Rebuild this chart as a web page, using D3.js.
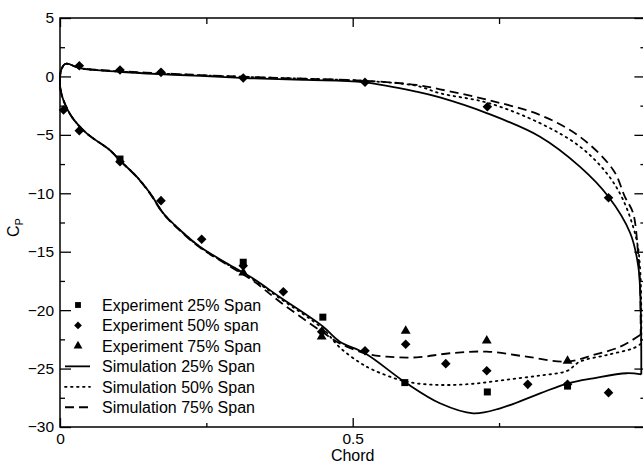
<!DOCTYPE html>
<html>
<head>
<meta charset="utf-8">
<script src="https://cdn.jsdelivr.net/npm/d3@7"></script>
<style>
  body { margin: 0; background: #fff; }
  text { font-family: "Liberation Sans", Arial, sans-serif; fill: #000; }
</style>
</head>
<body>
<div id="chart-area"></div>
<script>
// ---- data ----
var cpMajor = [-30, -25, -20, -15, -10, -5, 0, 5];
var cpMinor = [-27.5, -22.5, -17.5, -12.5, -7.5, -2.5, 2.5];
var chordMajor = [0, 0.5];
var chordMinor = [0.25, 0.75];

// experiments
var exp25X = [0.1025, 0.313, 0.449, 0.589, 0.730, 0.867];
var exp25Cp = [-7.07, -15.9, -20.6, -26.2, -27.0, -26.5];

var exp50X = [0.033, 0.1025, 0.1725, 0.313, 0.521, 0.730, 0.937,
              0.006, 0.033, 0.1025, 0.1725, 0.242, 0.313, 0.3815, 0.447, 0.521, 0.5905, 0.659, 0.729, 0.799, 0.867, 0.937];
var exp50Cp = [0.92, 0.55, 0.35, -0.13, -0.5, -2.59, -10.38,
               -2.87, -4.64, -7.3, -10.63, -13.94, -16.2, -18.42, -21.84, -23.47, -22.92, -24.58, -25.18, -26.35, -26.35, -27.06];

var exp75X = [0.313, 0.447, 0.5905, 0.729, 0.867];
var exp75Cp = [-16.8, -22.27, -21.78, -22.61, -24.35];

// simulations: closed loop, trailing edge lower -> leading edge -> trailing edge upper
var sim25X = [0.993, 0.968, 0.911, 0.868, 0.82, 0.752, 0.706, 0.649, 0.592, 0.521, 0.478, 0.449, 0.376, 0.33, 0.285, 0.239, 0.205, 0.1765, 0.154, 0.131, 0.1025, 0.085, 0.0456, 0.02, 0.0056, 0.001, 0,
              0.0017, 0.0085, 0.017, 0.0256, 0.04, 0.1, 0.17, 0.24, 0.325, 0.42, 0.52, 0.609, 0.649, 0.73, 0.82, 0.888, 0.937, 0.974, 0.988, 0.992, 0.993];
var sim25Cp = [-25.5, -25.4, -25.83, -26.26, -27.12, -28.4, -28.83, -27.97, -26.26, -23.69, -22.7, -21.4, -18.9, -17.3, -15.99, -14.57, -13.14, -11.71, -10.0, -8.58, -7.2, -6.3, -4.87, -3.45, -2.0, -1.16, -0.6,
               0.5, 1.06, 1.04, 0.83, 0.64, 0.4, 0.2, 0.04, -0.16, -0.3, -0.5, -1.3, -1.8, -3.16, -5.16, -7.72, -10.3, -13.4, -16.3, -20.0, -25.5];

var sim50X = [0.992, 0.979, 0.934, 0.888, 0.866, 0.82, 0.763, 0.706, 0.649, 0.592, 0.535, 0.5125, 0.478, 0.449, 0.376, 0.33, 0.285, 0.239, 0.205, 0.1765, 0.154, 0.131, 0.1025, 0.085, 0.0456, 0.02, 0.0056, 0.001, 0,
              0.0017, 0.0085, 0.017, 0.0256, 0.04, 0.1, 0.17, 0.24, 0.325, 0.42, 0.52, 0.609, 0.649, 0.73, 0.82, 0.888, 0.934, 0.962, 0.985, 0.991, 0.993, 0.993];
var sim50Cp = [-22.9, -23.27, -23.84, -24.41, -25.2, -25.6, -25.95, -26.3, -26.4, -26.12, -25.12, -24.5, -23.2, -21.6, -19.0, -17.4, -16.05, -14.6, -13.15, -11.72, -10.0, -8.58, -7.2, -6.3, -4.87, -3.45, -2.0, -1.16, -0.6,
               0.5, 1.06, 1.04, 0.84, 0.66, 0.42, 0.25, 0.1, -0.05, -0.2, -0.38, -0.8, -1.44, -2.25, -4.0, -6.0, -8.29, -10.57, -14.0, -16.5, -20.0, -22.9];

var sim75X = [0.991, 0.957, 0.911, 0.866, 0.797, 0.729, 0.666, 0.609, 0.558, 0.521, 0.478, 0.449, 0.376, 0.33, 0.285, 0.239, 0.205, 0.1765, 0.154, 0.131, 0.1025, 0.085, 0.0456, 0.02, 0.0056, 0.001, 0,
              0.0017, 0.0085, 0.017, 0.0256, 0.04, 0.1, 0.17, 0.24, 0.325, 0.42, 0.518, 0.609, 0.649, 0.73, 0.82, 0.888, 0.945, 0.965, 0.979, 0.987, 0.991, 0.992];
var sim75Cp = [-22.13, -23.13, -23.84, -24.41, -23.98, -23.55, -23.69, -24.04, -23.98, -23.69, -22.84, -21.9, -19.3, -17.5, -16.1, -14.65, -13.2, -11.75, -10.05, -8.6, -7.2, -6.3, -4.87, -3.45, -2.0, -1.16, -0.6,
               0.5, 1.06, 1.04, 0.85, 0.68, 0.45, 0.28, 0.12, -0.05, -0.2, -0.36, -0.73, -1.1, -2.0, -3.3, -5.16, -8.0, -10.3, -11.7, -14.85, -18.0, -22.13];

var legendLabels = ["Experiment 25% Span", "Experiment 50% span", "Experiment 75% Span",
                    "Simulation 25% Span", "Simulation 50% Span", "Simulation 75% Span"];

// ---- layout ----
var margin = { left: 60, right: 0, top: 18, bottom: 36 };
var W = 643, H = 463;
var width = 585.4, height = H - margin.top - margin.bottom;

var svg = d3.select("#chart-area")
    .append("svg")
        .attr("width", W)
        .attr("height", H);

var g = svg.append("g")
    .attr("transform", "translate(" + margin.left + ", " + margin.top + ")");

var x = d3.scaleLinear().domain([0, 1]).range([0, width]);
var y = d3.scaleLinear().domain([-30, 5]).range([height, 0]);

function zip(xs, ys) {
    return xs.map(function(v, i) { return [v, ys[i]]; });
}

// frame
g.append("rect")
    .attr("x", 0).attr("y", 0)
    .attr("width", width).attr("height", height)
    .attr("fill", "none")
    .attr("stroke", "#000")
    .attr("stroke-width", 1.5);

// axes
function styleAxis(sel) {
    sel.select(".domain").remove();
    sel.selectAll(".tick line").attr("stroke", "#000").attr("stroke-width", 1.3);
    sel.selectAll("text").attr("font-size", "15.5px").attr("fill", "#000")
        .style("font-family", "'Liberation Sans', Arial, sans-serif");
}

g.append("g").call(d3.axisLeft(y).tickValues(cpMajor).tickSize(-11).tickPadding(6).tickFormat(d3.format("d")))
    .call(styleAxis);
g.append("g").call(d3.axisLeft(y).tickValues(cpMinor).tickSize(-5).tickFormat(""))
    .call(styleAxis);
g.append("g").attr("transform", "translate(" + width + ",0)")
    .call(d3.axisRight(y).tickValues(cpMajor).tickSize(-11).tickFormat(""))
    .call(styleAxis);
g.append("g").attr("transform", "translate(" + width + ",0)")
    .call(d3.axisRight(y).tickValues(cpMinor).tickSize(-5).tickFormat(""))
    .call(styleAxis);

g.append("g").attr("transform", "translate(0," + height + ")")
    .call(d3.axisBottom(x).tickValues(chordMajor).tickSize(-9).tickPadding(6).tickFormat(function(d) { return d; }))
    .call(styleAxis);
g.append("g").attr("transform", "translate(0," + height + ")")
    .call(d3.axisBottom(x).tickValues(chordMinor).tickSize(-4).tickFormat(""))
    .call(styleAxis);
g.append("g")
    .call(d3.axisTop(x).tickValues(chordMajor).tickSize(-9).tickFormat(""))
    .call(styleAxis);
g.append("g")
    .call(d3.axisTop(x).tickValues(chordMinor).tickSize(-6).tickFormat(""))
    .call(styleAxis);

// axis titles
g.append("text")
    .attr("x", x(0.5))
    .attr("y", height + 34)
    .attr("font-size", "16px")
    .attr("text-anchor", "middle")
    .text("Chord");

var yl = g.append("text")
    .attr("transform", "translate(-41," + (y(-12.5) + 5) + ") rotate(-90)")
    .attr("font-size", "16px")
    .attr("text-anchor", "middle");
yl.append("tspan").text("C");
yl.append("tspan").attr("font-size", "11px").attr("dy", "4").text("P");

// simulation curves
var line = d3.line()
    .x(function(d) { return x(d[0]); })
    .y(function(d) { return y(d[1]); })
    .curve(d3.curveCatmullRom.alpha(0.5));

var sims = [
    { pts: zip(sim75X, sim75Cp), dash: "9,5" },
    { pts: zip(sim50X, sim50Cp), dash: "1.6,4.4" },
    { pts: zip(sim25X, sim25Cp), dash: null }
];

sims.forEach(function(s) {
    g.append("path")
        .attr("class", "line")
        .attr("d", line(s.pts))
        .attr("fill", "none")
        .attr("stroke", "#000")
        .attr("stroke-width", 1.8)
        .attr("stroke-linecap", s.dash && s.dash.indexOf("1.6") === 0 ? "round" : "butt")
        .attr("stroke-dasharray", s.dash);
});

// experiment markers
var sq = d3.symbol().type(d3.symbolSquare).size(49);
var dia = d3.symbol().type(d3.symbolSquare).size(46);
var tri = d3.symbol().type(d3.symbolTriangle).size(42);

function drawMarkers(pts, sym, rot) {
    g.selectAll(null)
        .data(pts)
        .enter()
        .append("path")
            .attr("d", sym)
            .attr("fill", "#000")
            .attr("transform", function(d) {
                return "translate(" + x(d[0]) + "," + y(d[1]) + ") rotate(" + rot + ")";
            });
}
drawMarkers(zip(exp50X, exp50Cp), dia, 45);
drawMarkers(zip(exp75X, exp75Cp), tri, 0);
drawMarkers(zip(exp25X, exp25Cp), sq, 0);

// legend
var legend = svg.append("g");
var rows = [
    { sym: sq, rot: 0 },
    { sym: dia, rot: 45 },
    { sym: tri, rot: 0 },
    { dash: null },
    { dash: "1.6,4.4" },
    { dash: "9,5" }
];
rows.forEach(function(r, i) {
    var ly = 305 + i * 20.45;
    if (r.sym) {
        legend.append("path")
            .attr("d", r.sym.size(r.rot ? 30 : 34)())
            .attr("fill", "#000")
            .attr("transform", "translate(78," + ly + ") rotate(" + r.rot + ")");
    } else {
        legend.append("line")
            .attr("x1", 65).attr("x2", 90)
            .attr("y1", ly).attr("y2", ly)
            .attr("stroke", "#000")
            .attr("stroke-width", 1.8)
            .attr("stroke-linecap", r.dash === "1.6,4.4" ? "round" : "butt")
            .attr("stroke-dasharray", r.dash);
    }
    legend.append("text")
        .attr("x", 102)
        .attr("y", ly)
        .attr("dy", "0.36em")
        .attr("font-size", "16px")
        .text(legendLabels[i]);
});
</script>
</body>
</html>
